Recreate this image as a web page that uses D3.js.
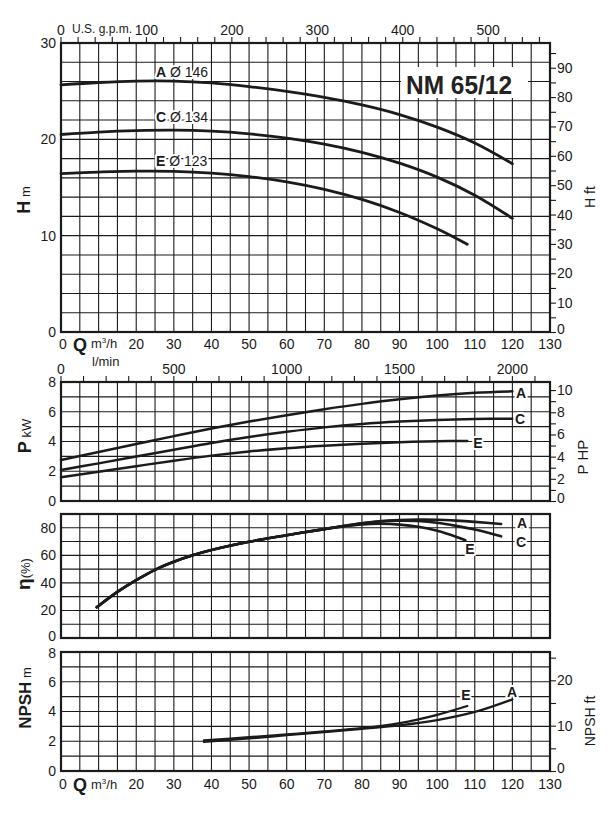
<!DOCTYPE html>
<html><head><meta charset="utf-8">
<script src="https://cdn.jsdelivr.net/npm/d3@7"></script>
<style>
html,body{margin:0;padding:0;background:#fff;}
svg{display:block;font-family:"Liberation Sans",Arial,Helvetica,sans-serif;}
</style></head><body>
<svg id="c" width="614" height="829"></svg>
<script>
// ---------------- DATA ----------------
const chartTitle = "NM 65/12";
const curveNames = ["A", "C", "E"];
const impellerDiameters = [146, 134, 123];

const flowLabels = [0, 20, 30, 40, 50, 60, 70, 80, 90, 100, 110, 120, 130];
const gpmLabels = [0, 100, 200, 300, 400, 500];
const lminLabels = [0, 500, 1000, 1500, 2000];

// Head (m) vs Q (m3/h)
const headQ_A = [0, 10, 20, 30, 40, 50, 60, 70, 80, 90, 100, 110, 120];
const head_A  = [25.65, 25.9, 26.05, 26.05, 25.85, 25.47, 24.97, 24.35, 23.57, 22.57, 21.27, 19.62, 17.47];
const headQ_C = [0, 10, 20, 30, 40, 50, 60, 70, 80, 90, 100, 110, 120];
const head_C  = [20.5, 20.75, 20.9, 20.95, 20.85, 20.57, 20.12, 19.5, 18.65, 17.53, 16.08, 14.2, 11.8];
const headQ_E = [0, 10, 20, 30, 40, 50, 60, 70, 80, 90, 100, 108];
const head_E  = [16.45, 16.6, 16.7, 16.68, 16.5, 16.14, 15.59, 14.81, 13.76, 12.41, 10.71, 9.1];

// Power (kW)
const powQ_A = [0, 10, 20, 30, 40, 50, 60, 70, 80, 90, 100, 110, 120];
const pow_A  = [2.76, 3.3, 3.83, 4.36, 4.87, 5.34, 5.77, 6.17, 6.53, 6.84, 7.09, 7.27, 7.37];
const powQ_C = [0, 10, 20, 30, 40, 50, 60, 70, 80, 90, 100, 110, 120];
const pow_C  = [2.08, 2.53, 2.99, 3.45, 3.9, 4.3, 4.65, 4.95, 5.18, 5.34, 5.45, 5.51, 5.53];
const powQ_E = [0, 10, 20, 30, 40, 50, 60, 70, 80, 90, 100, 108];
const pow_E  = [1.59, 1.96, 2.34, 2.71, 3.05, 3.33, 3.55, 3.72, 3.85, 3.95, 4.02, 4.04];

// Efficiency (%)
const effQ_A = [9.5, 15, 20, 25, 30, 35, 40, 50, 60, 70, 75, 80, 85, 90, 95, 100, 105, 110, 117];
const eff_A  = [22.3, 33.5, 42, 49.5, 55.3, 60, 63.8, 69.8, 74.6, 79.0, 81.2, 83.3, 84.8, 85.6, 85.9, 85.8, 85.2, 84.3, 82.7];
const effQ_C = [9.5, 15, 20, 25, 30, 35, 40, 50, 60, 70, 75, 80, 85, 90, 95, 100, 105, 110, 117];
const eff_C  = [22.3, 33.5, 42, 49.5, 55.3, 60, 63.8, 69.8, 74.6, 79.0, 81.2, 83.2, 84.6, 85.2, 84.9, 83.6, 81.4, 78.7, 73.8];
const effQ_E = [9.5, 15, 20, 25, 30, 35, 40, 50, 60, 70, 75, 80, 85, 90, 95, 100, 105, 107.5];
const eff_E  = [22.3, 33.5, 42, 49.5, 55.3, 60, 63.8, 69.8, 74.6, 79.0, 81.0, 82.5, 82.9, 82.3, 80.7, 77.8, 73.5, 70.9];

// NPSH (m)
const npshQ_A = [38, 50, 60, 70, 80, 90, 100, 110, 120];
const npsh_A  = [1.96, 2.19, 2.41, 2.62, 2.84, 3.07, 3.42, 3.97, 4.82];
const npshQ_E = [38, 50, 60, 70, 80, 90, 100, 108];
const npsh_E  = [2.06, 2.27, 2.46, 2.66, 2.88, 3.22, 3.78, 4.37];

// ---------------- DRAW ----------------
const svg = d3.select("#c");
const ink = "#1b1b1b";
const M2FT = 3.28084, KW2HP = 1.341, M3H2GPM = 4.40287, M3H2LMIN = 1000 / 60;

const x = d3.scaleLinear([0, 130], [61, 550]);
const yH = d3.scaleLinear([0, 30], [332, 43]);
const yP = d3.scaleLinear([0, 8], [501, 382]);
const yE = d3.scaleLinear([0, 90], [638, 514]);
const yN = d3.scaleLinear([0, 8], [771, 652]);

const panels = [
  {y: yH, step: 2, labels: [0, 10, 20, 30], nudge: {}},
  {y: yP, step: 1, labels: [0, 2, 4, 6, 8], nudge: {}},
  {y: yE, step: 10, labels: [0, 20, 40, 60, 80], nudge: {0: -1.5}},
  {y: yN, step: 1, labels: [0, 2, 4, 6, 8], nudge: {8: 1}}
];

const halo = s => s.attr("stroke", "#fff").attr("stroke-width", 4)
  .attr("stroke-linejoin", "round").attr("paint-order", "stroke");

panels.forEach(p => {
  const [y0, y1] = p.y.range();
  const [d0, d1] = p.y.domain();
  const g = svg.append("g");
  g.selectAll("line.v").data(d3.range(0, 131, 5)).join("line")
    .attr("x1", d => x(d)).attr("x2", d => x(d)).attr("y1", y1).attr("y2", y0)
    .attr("stroke", ink).attr("stroke-width", 1.1);
  g.selectAll("line.h").data(d3.range(d0, d1 + 0.001, p.step)).join("line")
    .attr("x1", 61).attr("x2", 550).attr("y1", d => p.y(d)).attr("y2", d => p.y(d))
    .attr("stroke", ink).attr("stroke-width", 1.1);
  const ax = svg.append("g").attr("transform", "translate(61,0)")
    .call(d3.axisLeft(p.y).tickValues(p.labels).tickSize(0).tickPadding(5).tickFormat(d3.format("d")));
  ax.select(".domain").remove();
  ax.selectAll("text").attr("font-size", 14).attr("fill", ink).attr("font-family", null)
    .attr("y", d => p.nudge[d] || 0);
});

// title box
svg.append("rect").attr("x", 401).attr("y", 67).attr("width", 127).attr("height", 31).attr("fill", "#fff");
svg.append("text").attr("x", 459).attr("y", 94).attr("text-anchor", "middle")
  .attr("font-size", 25).attr("font-weight", "bold").attr("fill", "#222")
  .attr("textLength", 106).attr("lengthAdjust", "spacingAndGlyphs").text(chartTitle);

// frames
panels.forEach(p => {
  const [y0, y1] = p.y.range();
  svg.append("rect").attr("x", 61).attr("y", y1).attr("width", 489).attr("height", y0 - y1)
    .attr("fill", "none").attr("stroke", ink).attr("stroke-width", 2.2);
});

// right axes
function rightAxis(scale, ticks, labelEvery) {
  const ax = svg.append("g").attr("transform", "translate(550,0)")
    .call(d3.axisRight(scale).tickValues(ticks).tickSize(6).tickPadding(1)
      .tickFormat(d => (d % labelEvery === 0 ? d : "")));
  ax.select(".domain").remove();
  ax.selectAll("line").attr("stroke", ink).attr("stroke-width", 1.1);
  ax.selectAll("text").attr("font-size", 14).attr("fill", ink).attr("font-family", null);
  ax.selectAll(".tick").filter(d => d === 0).select("text").attr("dy", "0.1em");
}
rightAxis(d3.scaleLinear([0, 30 * M2FT], [332, 43]), d3.range(0, 96, 5), 10);
rightAxis(d3.scaleLinear([0, 8 * KW2HP], [501, 382]), d3.range(0, 11, 1), 2);
rightAxis(d3.scaleLinear([0, 8 * M2FT], [771, 652]), d3.range(0, 26, 5), 10);

// top axes
function topAxis(scale, ticks, labels, yPos, labelY) {
  const g = svg.append("g");
  g.selectAll("line").data(ticks).join("line")
    .attr("x1", d => scale(d)).attr("x2", d => scale(d)).attr("y1", yPos - 6).attr("y2", yPos)
    .attr("stroke", ink).attr("stroke-width", 1.1);
  g.selectAll("text").data(labels).join("text")
    .attr("x", d => scale(d)).attr("y", labelY).attr("text-anchor", "middle")
    .attr("font-size", 14).attr("fill", ink).text(d => d);
}
topAxis(d3.scaleLinear([0, 130 * M3H2GPM], [61, 550]), d3.range(0, 561, 20), gpmLabels, 43, 35);
topAxis(d3.scaleLinear([0, 130 * M3H2LMIN], [61, 550]), d3.range(0, 2101, 100), lminLabels, 382, 374);
svg.append("text").attr("x", 72).attr("y", 33).attr("font-size", 12).attr("fill", ink).text("U.S. g.p.m.");

// bottom Q labels
function bottomLabels(yBase, withLmin) {
  svg.append("g").selectAll("text").data(flowLabels).join("text")
    .attr("x", d => x(d) + (d === 0 ? 2 : 0)).attr("y", yBase).attr("text-anchor", "middle")
    .attr("font-size", 14).attr("fill", ink).text(d => d);
  svg.append("text").attr("x", 73).attr("y", yBase + 2).attr("font-size", 18)
    .attr("font-weight", "bold").attr("fill", ink).text("Q");
  if (withLmin) {
    svg.append("text").attr("x", 91).attr("y", yBase - 1).attr("font-size", 13).attr("fill", ink)
      .html('m<tspan font-size="8" dy="-5">3</tspan><tspan dy="5">/h</tspan>');
    svg.append("text").attr("x", 92).attr("y", yBase + 17).attr("font-size", 13).attr("fill", ink).text("l/min");
  } else {
    svg.append("text").attr("x", 91).attr("y", yBase).attr("font-size", 13).attr("fill", ink)
      .html('m<tspan font-size="8" dy="-5">3</tspan><tspan dy="5">/h</tspan>');
  }
}
bottomLabels(349, true);
bottomLabels(789, false);

// axis titles
function vTitle(xp, yp, parts) {
  const t = svg.append("text").attr("transform", `translate(${xp},${yp}) rotate(-90)`)
    .attr("text-anchor", "middle").attr("fill", ink);
  parts.forEach(p => t.append("tspan").attr("font-size", p[1]).attr("font-weight", p[2] ? "bold" : "normal").text(p[0]));
}
vTitle(30, 200, [["H", 18, true], [" m", 13, false]]);
vTitle(31, 436, [["P", 18, true], [" kW", 13, false]]);
vTitle(30, 574, [["η", 19, true], ["(%)", 13, false]]);
vTitle(31, 698, [["NPSH", 17, true], [" m", 13, false]]);
vTitle(595, 197, [["H ft", 14, false]]);
vTitle(588, 457, [["P HP", 15, false]]);
vTitle(595, 721, [["NPSH ft", 14, false]]);

// curves
const line = (ys) => d3.line().x(d => x(d[0])).y(d => ys(d[1])).curve(d3.curveCatmullRom.alpha(0.5));
const zip = (a, b) => a.map((v, i) => [v, b[i]]);
function curve(ys, qs, vs, w) {
  svg.append("path").attr("d", line(ys)(zip(qs, vs))).attr("fill", "none")
    .attr("stroke", ink).attr("stroke-width", w).attr("stroke-linecap", "round");
}
curve(yH, headQ_A, head_A, 2.8);
curve(yH, headQ_C, head_C, 2.8);
curve(yH, headQ_E, head_E, 2.8);
curve(yP, powQ_A, pow_A, 2.5);
curve(yP, powQ_C, pow_C, 2.5);
curve(yP, powQ_E, pow_E, 2.5);
curve(yE, effQ_E, eff_E, 2.6);
curve(yE, effQ_C, eff_C, 2.6);
curve(yE, effQ_A, eff_A, 2.6);
curve(yN, npshQ_A, npsh_A, 2.3);
curve(yN, npshQ_E, npsh_E, 2.3);

// curve labels
function lab(xp, yp, txt, bold, size) {
  svg.append("text").attr("x", xp).attr("y", yp).attr("text-anchor", "middle")
    .attr("font-size", size || 14).attr("font-weight", bold ? "bold" : "normal").attr("fill", ink)
    .call(halo).text(txt);
}
curveNames.forEach((n, i) => {
  const yy = [77, 122, 166][i];
  const t = svg.append("text").attr("x", 156).attr("y", yy).attr("font-size", 14).attr("fill", ink).call(halo);
  t.append("tspan").attr("font-weight", "bold").text(n);
  t.append("tspan").text(" Ø " + impellerDiameters[i]);
});
lab(521, 398, "A", true); lab(520, 424, "C", true); lab(478, 448, "E", true);
lab(522, 528, "A", true); lab(521, 547, "C", true); lab(470, 554, "E", true);
lab(466, 700, "E", true); lab(512, 697, "A", true);
</script></body></html>
